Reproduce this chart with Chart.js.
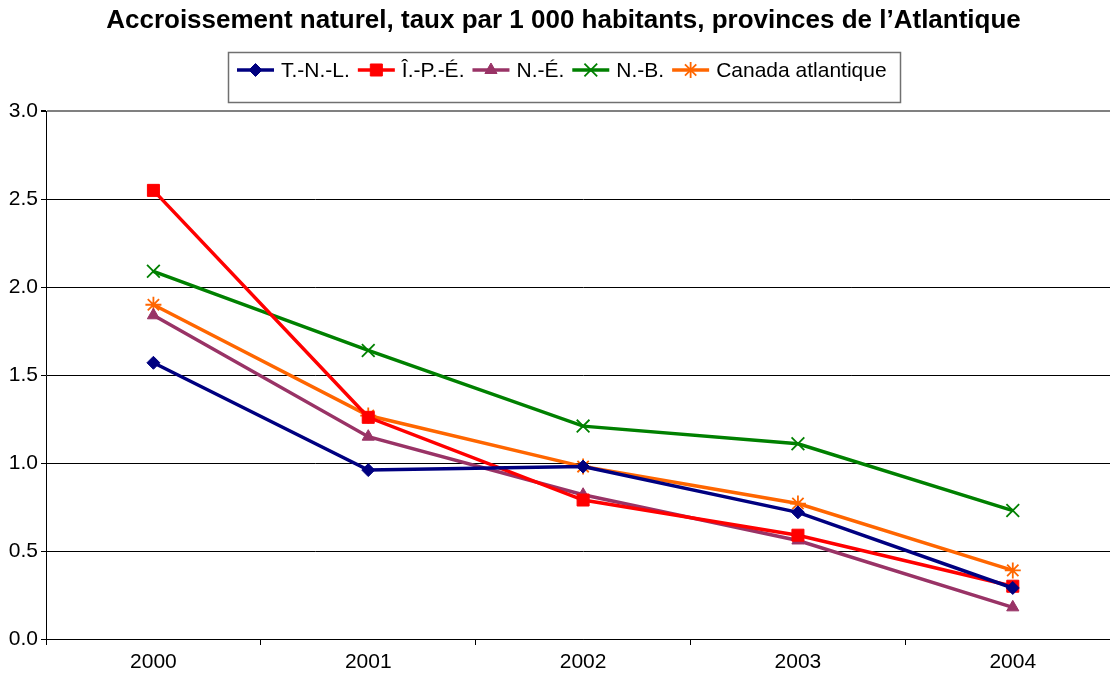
<!DOCTYPE html>
<html lang="fr">
<head>
    <meta charset="UTF-8">
    <title>Accroissement naturel - provinces de l'Atlantique</title>
    <script src="https://cdn.jsdelivr.net/npm/chart.js"></script>
    <style>
        body {
            margin: 0;
            padding: 0;
            background: white;
            overflow: hidden;
        }
        #wrap {
            position: absolute;
            left: 0;
            top: 0;
            width: 1131px;
            height: 675px;
        }
    </style>
</head>
<body>
    <div id="wrap">
        <canvas id="myChart" width="1131" height="675"></canvas>
    </div>
    <script>
        // Données
        const annees = ['2000', '2001', '2002', '2003', '2004'];
        const tnl = [1.57, 0.96, 0.98, 0.72, 0.29];
        const ipe = [2.55, 1.26, 0.79, 0.59, 0.30];
        const ne = [1.84, 1.15, 0.82, 0.56, 0.18];
        const nb = [2.09, 1.64, 1.21, 1.11, 0.73];
        const canadaAtl = [1.90, 1.27, 0.98, 0.77, 0.39];
        const seriesNoms = ['T.-N.-L.', 'Î.-P.-É.', 'N.-É.', 'N.-B.', 'Canada atlantique'];

        const police = "'Liberation Sans', Arial, sans-serif";

        function serie(label, data, couleur, forme, rayon) {
            const trait = (forme === 'crossRot' || forme === 'star');
            return {
                label: label,
                data: data,
                borderColor: couleur,
                backgroundColor: couleur,
                borderWidth: 3.5,
                pointStyle: forme,
                pointRadius: rayon,
                pointHoverRadius: rayon,
                pointBorderColor: couleur,
                pointBackgroundColor: couleur,
                pointBorderWidth: trait ? 1.8 : 1,
                tension: 0
            };
        }

        // Légende dessinée comme dans Excel : trait + marqueur, dans un cadre
        const legendeCadre = {
            id: 'legendeCadre',
            afterDraw(chart) {
                const ctx = chart.ctx;
                ctx.save();
                ctx.strokeStyle = '#707070';
                ctx.lineWidth = 1.5;
                ctx.strokeRect(228.5, 52.5, 672, 50);
                ctx.font = '21px ' + police;
                ctx.textBaseline = 'middle';
                let x = 237;
                const y = 70;
                chart.data.datasets.forEach(ds => {
                    ctx.strokeStyle = ds.borderColor;
                    ctx.lineWidth = 3.5;
                    ctx.beginPath();
                    ctx.moveTo(x, y);
                    ctx.lineTo(x + 37, y);
                    ctx.stroke();
                    ctx.fillStyle = ds.pointBackgroundColor;
                    ctx.strokeStyle = ds.pointBorderColor;
                    ctx.lineWidth = ds.pointBorderWidth;
                    Chart.helpers.drawPoint(ctx, {
                        pointStyle: ds.pointStyle,
                        radius: ds.pointRadius,
                        rotation: 0,
                        borderWidth: ds.pointBorderWidth
                    }, x + 18.5, y);
                    ctx.fillStyle = '#000';
                    ctx.fillText(ds.label, x + 44, y + 1);
                    x = x + 44 + ctx.measureText(ds.label).width + 8;
                });
                ctx.restore();
            }
        };

        const ctx = document.getElementById('myChart').getContext('2d');
        new Chart(ctx, {
            type: 'line',
            data: {
                labels: annees,
                datasets: [
                    serie(seriesNoms[0], tnl, '#000080', 'rectRot', 6.5),
                    serie(seriesNoms[1], ipe, '#FF0000', 'rect', 8.5),
                    serie(seriesNoms[2], ne, '#993366', 'triangle', 7),
                    serie(seriesNoms[3], nb, '#008000', 'crossRot', 9),
                    serie(seriesNoms[4], canadaAtl, '#FF6600', 'star', 8)
                ]
            },
            plugins: [legendeCadre],
            options: {
                responsive: false,
                animation: false,
                layout: {
                    padding: { left: 0, right: 4, top: 0, bottom: 0 }
                },
                plugins: {
                    legend: { display: false },
                    tooltip: { enabled: false },
                    title: {
                        display: true,
                        text: 'Accroissement naturel, taux par 1 000 habitants, provinces de l’Atlantique',
                        color: '#000',
                        font: { family: police, size: 26, weight: 'bold', lineHeight: 1.2 },
                        padding: { top: 5, bottom: 75 }
                    }
                },
                scales: {
                    x: {
                        offset: true,
                        afterFit: function(scale) { scale.height = 36; },
                        grid: {
                            offset: true,
                            drawOnChartArea: false,
                            drawTicks: true,
                            tickLength: 6,
                            color: '#000'
                        },
                        border: { color: '#000', width: 1 },
                        ticks: {
                            color: '#000',
                            padding: 5,
                            font: { family: police, size: 21 }
                        }
                    },
                    y: {
                        min: 0,
                        max: 3,
                        afterFit: function(scale) { scale.width = 46; },
                        grid: {
                            color: function(c) { return c.tick && c.tick.value === 3 ? '#808080' : '#000'; },
                            lineWidth: function(c) { return c.tick && c.tick.value === 3 ? 2 : 1; },
                            tickColor: '#000',
                            tickLength: 5
                        },
                        border: { color: '#000', width: 1 },
                        ticks: {
                            stepSize: 0.5,
                            color: '#000',
                            padding: 3,
                            font: { family: police, size: 21 },
                            callback: function(v) { return v.toFixed(1); }
                        }
                    }
                }
            }
        });
    </script>
</body>
</html>
